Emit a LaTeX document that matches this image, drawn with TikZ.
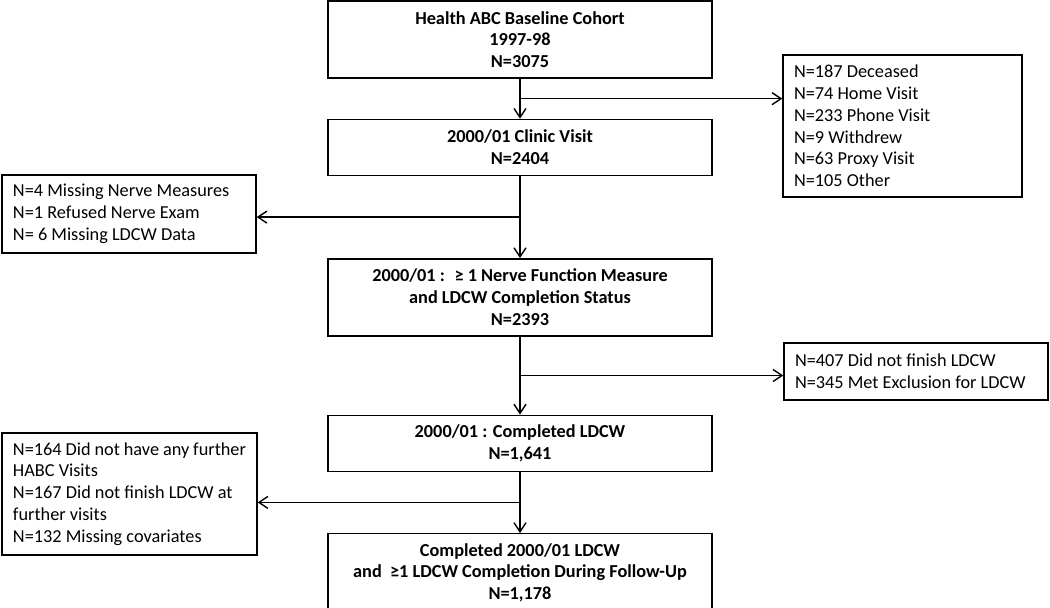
\documentclass[tikz,border=0pt]{standalone}
\usepackage{fontspec}
\setmainfont{Carlito}
\usetikzlibrary{positioning,calc,arrows.meta}

\begin{document}
\begin{tikzpicture}[auto,node distance=.8cm,
stage/.style={rectangle,draw,line width=0.8pt,inner sep=0pt,minimum width=7.68cm,align=center,font=\fontsize{10.4}{12.4}\selectfont\bfseries},
excl/.style={rectangle,draw,line width=0.8pt,inner xsep=0.22cm,inner ysep=0pt,align=flush left,font=\fontsize{10.4}{12.4}\selectfont},
paths/.style={line width=0.8pt,-{Straight Barb[length=1.8mm,width=2.4mm]}}
]
\useasboundingbox (0,0) rectangle (21,-12.16);

%create nodes
\node[stage, minimum height=1.54cm] (base) at (10.4,-0.79) {Health ABC Baseline Cohort\\1997-98\\N=3075};
\node[stage, minimum height=1.12cm, below=0.8cm of base] (clinic) {2000/01 Clinic Visit\\N=2404};
\node[stage, minimum height=1.54cm, below=1.64cm of clinic] (nerve) {2000/01 :~ ≥ 1 Nerve Function Measure\\and LDCW Completion Status\\N=2393};
\node[stage, minimum height=1.12cm, below=1.56cm of nerve] (ldcw) {2000/01 : Completed LDCW\\N=1,641};
\node[stage, minimum height=1.56cm, below=1.22cm of ldcw] (final) {Completed 2000/01 LDCW\\and~ ≥1 LDCW Completion During Follow-Up\\N=1,178};

\node[excl, text width=4.34cm, minimum height=2.84cm] (lost) at (18.05,-2.52) {N=187 Deceased\\N=74 Home Visit\\N=233 Phone Visit\\N=9 Withdrew\\N=63 Proxy Visit\\N=105 Other};
\node[excl, text width=4.64cm, minimum height=1.56cm] (missing) at (2.58,-4.28) {N=4 Missing Nerve Measures\\N=1 Refused Nerve Exam\\N= 6 Missing LDCW Data};
\node[excl, text width=4.84cm, minimum height=1.14cm] (notdone) at (18.32,-7.43) {N=407 Did not finish LDCW\\N=345 Met Exclusion for LDCW};
\node[excl, text width=4.66cm, minimum height=2.44cm] (nofollow) at (2.59,-9.88) {N=164 Did not have any further\\HABC Visits\\N=167 Did not finish LDCW at\\further visits\\N=132 Missing covariates};

%branch points
\coordinate (b1) at ($(base.south)!0.5!(clinic.north)$);
\coordinate (b2) at ($(clinic.south)!0.5!(nerve.north)$);
\coordinate (b3) at ($(nerve.south)!0.5!(ldcw.north)$);
\coordinate (b4) at ($(ldcw.south)!0.5!(final.north)$);

%draw paths
\draw[paths] (base) -- (clinic);
\draw[paths] (clinic) -- (nerve);
\draw[paths] (nerve) -- (ldcw);
\draw[paths] (ldcw) -- (final);

%exclusions
\draw[paths] (b1) -- (b1 -| lost.west);
\draw[paths] (b2) -- (b2 -| missing.east);
\draw[paths] (b3) -- (b3 -| notdone.west);
\draw[paths] (b4) -- (b4 -| nofollow.east);

\end{tikzpicture}
\end{document}
